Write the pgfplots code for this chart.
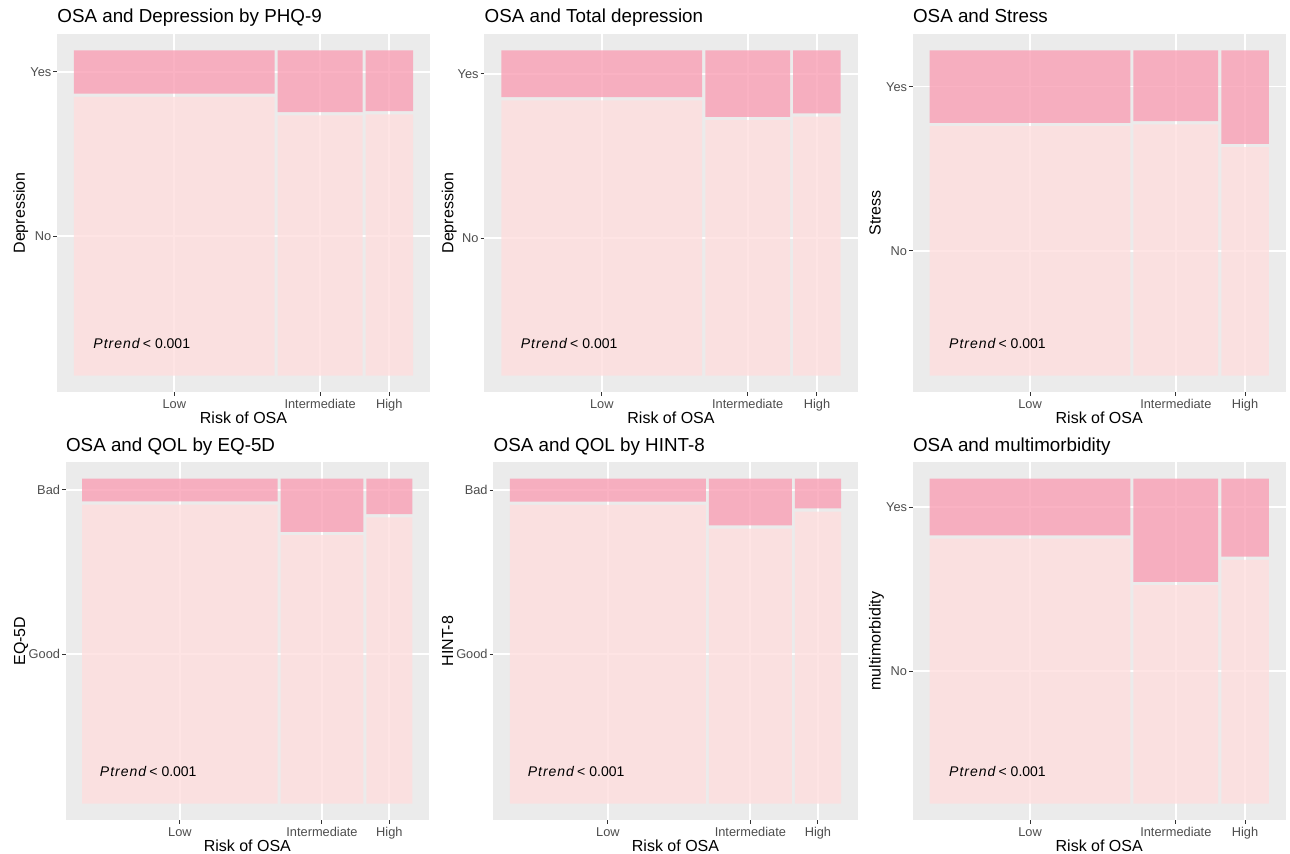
\documentclass[border=0pt]{standalone}
\usepackage{pgfplots}
\pgfplotsset{compat=1.18}
\usepackage{fontspec}
\setmainfont{Liberation Sans}
\definecolor{ggbg}{RGB}{235,235,235}
\definecolor{yesc}{RGB}{249,159,181}
\definecolor{noc}{RGB}{254,222,222}
\definecolor{tickc}{RGB}{51,51,51}
\definecolor{labc}{RGB}{77,77,77}
\newcommand{\tile}[5]{\addplot[draw=none, fill=#5, fill opacity=0.8] coordinates {(#1,#3) (#2,#3) (#2,#4) (#1,#4) (#1,#3)};}
\newcommand{\ptrend}{\node[font=\fontsize{7}{8.5}\selectfont, anchor=center, inner sep=0pt] at (axis cs:0.2,0.1) {{\itshape\addfontfeatures{LetterSpace=7}Ptrend}\hspace{1.6pt}<\hspace{2pt}0.001};}
\pgfplotsset{mosaic/.style={
  scale only axis, anchor=north west,
  xmin=-0.05, xmax=1.05, ymin=-0.05, ymax=1.05,
  axis background/.style={fill=ggbg},
  axis line style={draw=none},
  grid=major, major grid style={white, line width=0.9pt},
  tick align=outside, tick pos=left,
  major tick length=1.85pt, tick style={color=tickc, line width=0.5pt},
  xtick={0.296,0.726,0.93}, xticklabels={Low,Intermediate,High},
  xticklabel style={font=\fontsize{6.4}{7.5}\selectfont, text=labc, anchor=north, inner sep=0pt, text height=4.6pt, text depth=1.3pt, yshift=-1.55pt},
  yticklabel style={font=\fontsize{6.4}{7.5}\selectfont, text=labc, anchor=east, inner sep=0pt, text height=4.6pt, text depth=0pt, xshift=-0.8pt},
  every axis title shift=0pt,
  title style={font=\fontsize{9.4}{11}\selectfont, at={(axis description cs:0,1)}, anchor=base west, yshift=5.6pt, inner sep=0pt},
  xlabel={Risk of OSA},
  xlabel style={font=\fontsize{8}{9.6}\selectfont, at={(axis description cs:0.5,0)}, anchor=base, yshift=-16pt, inner sep=0pt},
  ylabel style={font=\fontsize{8}{9.6}\selectfont, anchor=base, inner sep=0pt},
}}
\begin{document}
\begin{tikzpicture}
\useasboundingbox (0pt,-427pt) rectangle (645pt,0pt);
% Panel 1
\begin{axis}[mosaic, at={(28.5pt,-17pt)}, width=186.5pt, height=179pt,
  title={OSA and Depression by PHQ-9}, ylabel={Depression},
  ylabel style={at={(axis description cs:-0.0858,0.5)}},
  ytick={0.4285,0.9335}, yticklabels={No,Yes}]
\tile{0}{0.592}{0}{0.857}{noc}
\tile{0}{0.592}{0.867}{1}{yesc}
\tile{0.601}{0.851}{0}{0.800}{noc}
\tile{0.601}{0.851}{0.810}{1}{yesc}
\tile{0.860}{1}{0}{0.803}{noc}
\tile{0.860}{1}{0.813}{1}{yesc}
\ptrend
\end{axis}
% Panel 2
\begin{axis}[mosaic, at={(242.15pt,-17pt)}, width=186.7pt, height=179pt,
  title={OSA and Total depression}, ylabel={Depression},
  ylabel style={at={(axis description cs:-0.083,0.5)}},
  ytick={0.423,0.928}, yticklabels={No,Yes}]
\tile{0}{0.592}{0}{0.846}{noc}
\tile{0}{0.592}{0.856}{1}{yesc}
\tile{0.601}{0.851}{0}{0.785}{noc}
\tile{0.601}{0.851}{0.795}{1}{yesc}
\tile{0.860}{1}{0}{0.796}{noc}
\tile{0.860}{1}{0.806}{1}{yesc}
\ptrend
\end{axis}
% Panel 3
\begin{axis}[mosaic, at={(456.35pt,-17pt)}, width=186.5pt, height=179pt,
  title={OSA and Stress}, ylabel={Stress},
  ylabel style={at={(axis description cs:-0.0858,0.5)}},
  ytick={0.3835,0.8885}, yticklabels={No,Yes}]
\tile{0}{0.592}{0}{0.767}{noc}
\tile{0}{0.592}{0.777}{1}{yesc}
\tile{0.601}{0.851}{0}{0.772}{noc}
\tile{0.601}{0.851}{0.782}{1}{yesc}
\tile{0.860}{1}{0}{0.702}{noc}
\tile{0.860}{1}{0.712}{1}{yesc}
\ptrend
\end{axis}
% Panel 4
\begin{axis}[mosaic, at={(32.85pt,-231.15pt)}, width=181.65pt, height=178.85pt,
  title={OSA and QOL by EQ-5D}, ylabel={EQ-5D},
  ylabel style={at={(axis description cs:-0.112,0.5)}},
  ytick={0.46,0.965}, yticklabels={Good,Bad}]
\tile{0}{0.592}{0}{0.920}{noc}
\tile{0}{0.592}{0.930}{1}{yesc}
\tile{0.601}{0.851}{0}{0.826}{noc}
\tile{0.601}{0.851}{0.836}{1}{yesc}
\tile{0.860}{1}{0}{0.881}{noc}
\tile{0.860}{1}{0.891}{1}{yesc}
\ptrend
\end{axis}
% Panel 5
\begin{axis}[mosaic, at={(246.65pt,-231.15pt)}, width=182.2pt, height=178.85pt,
  title={OSA and QOL by HINT-8}, ylabel={HINT-8},
  ylabel style={at={(axis description cs:-0.11,0.5)}},
  ytick={0.4595,0.9645}, yticklabels={Good,Bad}]
\tile{0}{0.592}{0}{0.919}{noc}
\tile{0}{0.592}{0.929}{1}{yesc}
\tile{0.601}{0.851}{0}{0.846}{noc}
\tile{0.601}{0.851}{0.856}{1}{yesc}
\tile{0.860}{1}{0}{0.898}{noc}
\tile{0.860}{1}{0.908}{1}{yesc}
\ptrend
\end{axis}
% Panel 6
\begin{axis}[mosaic, at={(456.35pt,-231.15pt)}, width=186.5pt, height=178.85pt,
  title={OSA and multimorbidity}, ylabel={multimorbidity},
  ylabel style={at={(axis description cs:-0.0858,0.5)}},
  ytick={0.4075,0.9125}, yticklabels={No,Yes}]
\tile{0}{0.592}{0}{0.815}{noc}
\tile{0}{0.592}{0.825}{1}{yesc}
\tile{0.601}{0.851}{0}{0.672}{noc}
\tile{0.601}{0.851}{0.682}{1}{yesc}
\tile{0.860}{1}{0}{0.750}{noc}
\tile{0.860}{1}{0.760}{1}{yesc}
\ptrend
\end{axis}
\end{tikzpicture}
\end{document}
